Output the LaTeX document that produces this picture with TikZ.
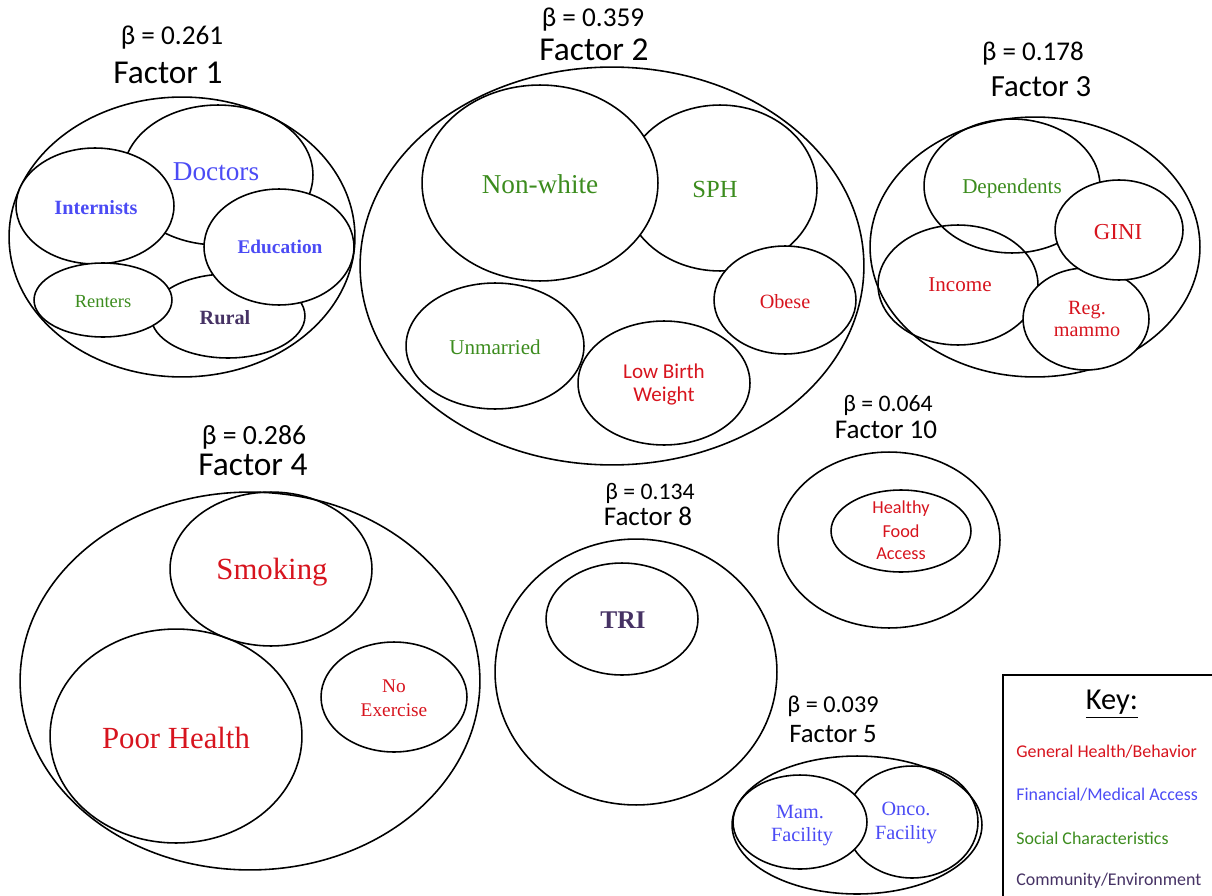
\documentclass[tikz,border=0pt]{standalone}
\usepackage{fontspec}
\setmainfont{Liberation Serif}
\newfontfamily\calfont{Carlito}
\usetikzlibrary{shapes.geometric}
\definecolor{cred}{RGB}{215,20,30}
\definecolor{cblue}{RGB}{75,75,245}
\definecolor{cgreen}{RGB}{60,140,30}
\definecolor{cpurp}{RGB}{70,50,100}
\newcommand{\fsz}[1]{\fontsize{#1}{#1}\selectfont}
\tikzset{
  el/.style 2 args={ellipse, draw, line width=0.9pt, minimum width=#1*0.04cm, minimum height=#2*0.04cm, inner sep=0pt},
  ttl/.style={font=\calfont\fsz{#1}, inner sep=0pt, align=center},
  lab/.style={inner sep=0pt, align=center},
}
\begin{document}
\begin{tikzpicture}[x=0.02cm,y=-0.02cm]
\useasboundingbox (0,0) rectangle (1212,895);
% ---------- Factor 1
\node[ttl=15.5] (b1) at (172,38) {β = 0.261};
\node[ttl=19] (f1) at (168,73) {Factor 1};
\node[el={173}{140}] (F1) at (182,237) {};
\node[el={95}{70}] (doc) at (218,175) {};
\node[el={79}{58}, fill=white] (int) at (95,206) {};
\node[el={77}{42}] (rur) at (228,316) {};
\node[el={75}{58}, fill=white] (edu) at (279,247) {};
\node[el={69}{37}, fill=white] (ren) at (103,300) {};
\node[lab, text=cblue, font=\fsz{15.5}] at (216,172) {Doctors};
\node[lab, text=cblue, font=\bfseries\fsz{11.5}] at (96,208) {Internists};
\node[lab, text=cblue, font=\bfseries\fsz{11}] at (280,247) {Education};
\node[lab, text=cgreen, font=\fsz{10.5}] at (103,302) {Renters};
\node[lab, text=cpurp, font=\bfseries\fsz{11.5}] at (225,318) {Rural};
% ---------- Factor 2
\node[ttl=15.5] (b2) at (593,20) {β = 0.359};
\node[ttl=19] (f2) at (594,50) {Factor 2};
\node[el={252}{199}] (F2) at (612,266) {};
\node[el={97}{83}] (sph) at (720,188) {};
\node[el={118}{98}, fill=white] (nw) at (540,183) {};
\node[el={71}{54}, fill=white] (ob) at (785,300) {};
\node[el={89}{63}] (um) at (495,346) {};
\node[el={86}{62}] (lbw) at (664,383) {};
\node[lab, text=cgreen, font=\fsz{15.5}] at (540,184) {Non-white};
\node[lab, text=cgreen, font=\fsz{14}] at (715,189) {SPH};
\node[lab, text=cred, font=\fsz{11.5}] at (785,302) {Obese};
\node[lab, text=cgreen, font=\fsz{12}] at (495,347) {Unmarried};
\node[lab, text=cred, font=\calfont\fsz{12}] at (664,371) {Low Birth};
\node[lab, text=cred, font=\calfont\fsz{12}] at (664,396) {Weight};
% ---------- Factor 3
\node[ttl=15.4] (b3) at (1033,54) {β = 0.178};
\node[ttl=17.5] (f3) at (1041,87) {Factor 3};
\node[el={165}{130}] (F3) at (1035,247) {};
\node[el={88}{67}] (dep) at (1012,186) {};
\node[el={80}{60}] (inc) at (958,285) {};
\node[el={63}{51}, fill=white] (reg) at (1086,319) {};
\node[el={64}{50}, fill=white] (gini) at (1119,230) {};
\node[lab, text=cgreen, font=\fsz{12}] at (1012,188) {Dependents};
\node[lab, text=cred, font=\fsz{13}] at (1118,232) {GINI};
\node[lab, text=cred, font=\fsz{12}] at (960,285) {Income};
\node[lab, text=cred, font=\fsz{11.5}] at (1087,310) {Reg.};
\node[lab, text=cred, font=\fsz{11.5}] at (1087,332) {mammo};
% ---------- Factor 4
\node[ttl=15.8] (b4) at (254,437) {β = 0.286};
\node[ttl=19] (f4) at (253,465) {Factor 4};
\node[el={230}{189}] (F4) at (250,681) {};
\node[el={101}{77}] (smk) at (271,569) {};
\node[el={126}{107}] (ph) at (176,736) {};
\node[el={73}{55}] (nex) at (394,697) {};
\node[lab, text=cred, font=\fsz{17.5}] at (272,572) {Smoking};
\node[lab, text=cred, font=\fsz{17.5}] at (176,738) {Poor Health};
\node[lab, text=cred, font=\fsz{11}] at (394,686) {No};
\node[lab, text=cred, font=\fsz{11}] at (394,710) {Exercise};
% ---------- Factor 8
\node[ttl=13.5] (b8) at (650,493) {β = 0.134};
\node[ttl=15.4] (f8) at (648,516) {Factor 8};
\node[el={141}{133}] (F8) at (636,672) {};
\node[el={76}{56}] (tri) at (622,619) {};
\node[lab, text=cpurp, font=\bfseries\fsz{14.5}] at (623,620) {TRI};
% ---------- Factor 10
\node[ttl=13.5] (b10) at (888,405) {β = 0.064};
\node[ttl=15.4] (f10) at (886,430) {Factor 10};
\node[el={111}{88}] (F10) at (889,540) {};
\node[el={70}{41}] (hfa) at (901,531) {};
\node[lab, text=cred, font=\calfont\fsz{10.4}] at (901,509) {Healthy};
\node[lab, text=cred, font=\calfont\fsz{10.4}] at (901,531) {Food};
\node[lab, text=cred, font=\calfont\fsz{10.4}] at (901,554) {Access};
% ---------- Factor 5
\node[ttl=13.8] (b5) at (833,706) {β = 0.039};
\node[ttl=15.2] (f5) at (833,734) {Factor 5};
\node[el={125}{69}] (F5) at (857,825) {};
\node[el={66}{56}] (onc) at (912,822) {};
\node[el={67}{47}, fill=white] (mam) at (800,822) {};
\node[lab, text=cblue, font=\fsz{11.5}] at (800,812) {Mam.};
\node[lab, text=cblue, font=\fsz{11.5}] at (802,837) {Facility};
\node[lab, text=cblue, font=\fsz{11.5}] at (906,809) {Onco.};
\node[lab, text=cblue, font=\fsz{11.5}] at (906,835) {Facility};
% ---------- Key
\draw[line width=0.9pt] (1003,675) rectangle (1216,900);
\node[ttl=17.3] (key) at (1112,704) {\underline{Key:}};
\node[lab, anchor=west, text=cred, font=\calfont\fsz{10.2}] (k1) at (1016,752) {General Health/Behavior};
\node[lab, anchor=west, text=cblue, font=\calfont\fsz{10.2}] (k2) at (1016,795) {Financial/Medical Access};
\node[lab, anchor=west, text=cgreen, font=\calfont\fsz{10.2}] (k3) at (1016,838) {Social Characteristics};
\node[lab, anchor=west, text=cpurp, font=\calfont\fsz{10.2}] (k4) at (1016,881) {Community/Environment};
\end{tikzpicture}
\end{document}
